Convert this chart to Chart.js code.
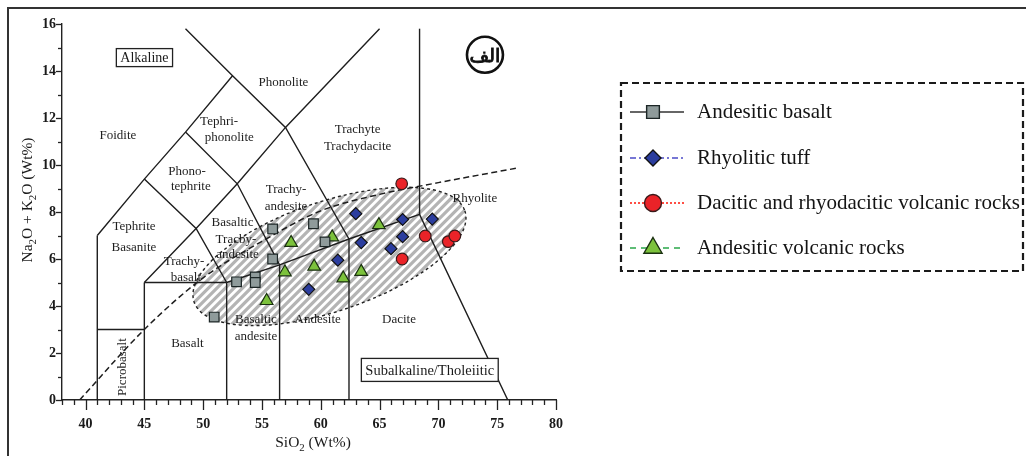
<!DOCTYPE html>
<html><head><meta charset="utf-8">
<script src="https://cdn.jsdelivr.net/npm/chart.js@4.4.1/dist/chart.umd.min.js"></script>
<style>html,body{margin:0;padding:0;background:#fff;}canvas{display:block}</style>
</head><body>
<canvas id="c" width="1026" height="456"></canvas>
<script>
// ---------- data ----------
const seriesNames = ['Andesitic basalt','Rhyolitic tuff','Dacitic and rhyodacitic volcanic rocks','Andesitic volcanic rocks'];
const andesiticBasalt = [[50.94,3.53],[52.84,5.03],[54.43,5.24],[54.43,5.0],[55.91,6.0],[55.91,7.28],[59.38,7.5],[60.36,6.73]];
const rhyoliticTuff = [[58.98,4.71],[61.45,5.95],[62.98,7.93],[63.44,6.70],[65.97,6.44],[66.96,7.68],[66.96,6.95],[69.48,7.70]];
const daciticRocks = [[66.88,9.2],[68.88,6.98],[66.92,6.0],[70.84,6.74],[71.4,6.98]];
const andesiticVolcanic = [[55.4,4.22],[56.95,5.44],[57.48,6.69],[59.44,5.68],[60.97,6.93],[61.91,5.18],[63.44,5.46],[64.94,7.45]];
const xTickLabels = [40,45,50,55,60,65,70,75,80];
const yTickLabels = [0,2,4,6,8,10,12,14,16];
const xTitle = [['SiO',0],['2',1],[' (Wt%)',0]];
const yTitle = [['Na',0],['2',1],['O + K',0],['2',1],['O (Wt%)',0]];
const tasBoundaries = [
  [[41,0],[41,7]],
  [[41,3],[45,3]],
  [[45,0],[45,5]],
  [[45,5],[52,5]],
  [[52,0],[52,5]],
  [[41,7],[45,9.4],[48.5,11.4],[52.5,13.8]],
  [[48.5,15.8],[52.5,13.8],[57,11.6],[62.4,6.85]],
  [[48.5,11.4],[52.9,9.2],[56.5,5.75]],
  [[45,9.4],[49.4,7.3],[52,5]],
  [[45,5],[49.4,7.3],[52.9,9.2],[57,11.6],[65,15.8]],
  [[52,5],[56.5,5.75],[62.4,6.85],[68.4,7.9],[75.9,0]],
  [[56.5,0],[56.5,5.75]],
  [[62.4,0],[62.4,6.85]],
  [[68.4,7.9],[68.4,15.8]]
];
const alkalineDivide = [[39.5,0],[45,3],[50,5.2],[55,6.75],[60,8.05],[65,8.75],[70,9.25],[76.7,9.87]];
const fieldEllipse = {v1:[49.23,4.17], v2:[72.25,8.05], co:[59.24,8.32]};
const fieldLabels = [
  ['Phonolite',56.82,13.5],['Tephri-',51.36,11.84],['phonolite',52.22,11.16],['Foidite',42.75,11.24],
  ['Phono-',48.64,9.71],['tephrite',48.95,9.07],['Trachy-',57.05,8.94],['andesite',57.05,8.23],
  ['Trachyte',63.13,11.5],['Trachydacite',63.13,10.79],['Rhyolite',73.1,8.59],
  ['Tephrite',44.12,7.38],['Basanite',44.12,6.49],['Basaltic',52.5,7.53],['Tracby-',52.79,6.84],['andesite',52.92,6.18],
  ['Trachy-',48.38,5.89],['basalt',48.53,5.23],['Basaltic',54.49,3.41],['andesite',54.49,2.7],
  ['Basalt',48.66,2.41],['Andesite',59.74,3.41],['Dacite',66.65,3.41]
];
const rotatedLabel = ['Picrobasalt',43.12,1.4];
const boxedLabels = [['Alkaline',45.01,14.57],['Subalkaline/Tholeiitic',69.27,1.28]];
const panelMark = ['الف',73.96,14.69];

// ---------- helpers ----------
const SERIF = '"Liberation Serif","Times New Roman",serif';
const toXY = a => a.map(p => ({x:p[0], y:p[1]}));
function P(chart, x, y){ return [chart.scales.x.getPixelForValue(x), chart.scales.y.getPixelForValue(y)]; }
function richWidth(ctx, parts, size){
  let w=0; for(const [t,s] of parts){ ctx.font = (s? (size*0.7):size)+'px '+SERIF; w+=ctx.measureText(t).width; } return w;
}
function drawRich(ctx, parts, size){
  const w = richWidth(ctx, parts, size); let x=-w/2;
  ctx.textBaseline='alphabetic'; ctx.textAlign='left';
  for(const [t,s] of parts){ ctx.font=(s?(size*0.7):size)+'px '+SERIF; ctx.fillText(t,x,s?size*0.25:0); x+=ctx.measureText(t).width; }
}
function marker(ctx, style, x, y, r, fill, stroke, bw){
  ctx.save(); ctx.fillStyle=fill; ctx.strokeStyle=stroke; ctx.lineWidth=bw; ctx.setLineDash([]); ctx.beginPath();
  if(style==='rect'){ const s=r*Math.SQRT1_2; ctx.rect(x-s,y-s,2*s,2*s); }
  else if(style==='rectRot'){ ctx.moveTo(x,y-r); ctx.lineTo(x+r,y); ctx.lineTo(x,y+r); ctx.lineTo(x-r,y); ctx.closePath(); }
  else if(style==='circle'){ ctx.arc(x,y,r,0,Math.PI*2); }
  else if(style==='triangle'){ ctx.moveTo(x,y-r); ctx.lineTo(x+r*0.866,y+r*0.5); ctx.lineTo(x-r*0.866,y+r*0.5); ctx.closePath(); }
  ctx.fill(); ctx.stroke(); ctx.restore();
}

const ellipsePlugin = {
  id:'fieldEllipse',
  beforeDatasetsDraw(chart){
    const ctx=chart.ctx;
    const [x1,y1]=P(chart,...fieldEllipse.v1), [x2,y2]=P(chart,...fieldEllipse.v2), [x3,y3]=P(chart,...fieldEllipse.co);
    const cx=(x1+x2)/2, cy=(y1+y2)/2, a=Math.hypot(x2-x1,y2-y1)/2, ang=Math.atan2(y2-y1,x2-x1);
    const ux=Math.cos(ang), uy=Math.sin(ang);
    const b=Math.abs(-(x3-cx)*uy+(y3-cy)*ux);
    ctx.save(); ctx.beginPath(); ctx.ellipse(cx,cy,a,b,ang,0,Math.PI*2); ctx.clip();
    ctx.strokeStyle='#b4b4b4'; ctx.lineWidth=3.2;
    for(let k=cx-a-260;k<cx+a+260;k+=8.5){ ctx.beginPath(); ctx.moveTo(k,cy+220); ctx.lineTo(k+440,cy-220); ctx.stroke(); }
    ctx.restore();
    ctx.save(); ctx.beginPath(); ctx.ellipse(cx,cy,a,b,ang,0,Math.PI*2);
    ctx.setLineDash([3,3]); ctx.lineWidth=1.4; ctx.strokeStyle='#222'; ctx.stroke(); ctx.restore();

    // region labels
    ctx.save(); ctx.fillStyle='#1e1e1e'; ctx.textAlign='center'; ctx.textBaseline='middle';
    ctx.font='13px '+SERIF;
    for(const [t,x,y] of fieldLabels){ const [px,py]=P(chart,x,y); ctx.fillText(t,px,py); }
    const [rx,ry]=P(chart,rotatedLabel[1],rotatedLabel[2]);
    ctx.translate(rx,ry); ctx.rotate(-Math.PI/2); ctx.fillText(rotatedLabel[0],0,0);
    ctx.restore();
  }
};

const decorPlugin = {
  id:'decor',
  afterDraw(chart){
    const ctx=chart.ctx, xs=chart.scales.x, ys=chart.scales.y, ca=chart.chartArea;
    ctx.save();
    // tick marks
    ctx.strokeStyle='#222'; ctx.lineWidth=1.3; ctx.setLineDash([]);
    for(let v=Math.ceil(xs.min); v<=xs.max; v++){
      const p=Math.round(xs.getPixelForValue(v))+0.5, len=(v%5===0)?10:5;
      ctx.beginPath(); ctx.moveTo(p,ca.bottom); ctx.lineTo(p,ca.bottom+len); ctx.stroke();
    }
    for(let v=ys.min; v<=ys.max; v++){
      const p=Math.round(ys.getPixelForValue(v))+0.5, len=(v%2===0)?6:4;
      ctx.beginPath(); ctx.moveTo(ca.left-len,p); ctx.lineTo(ca.left,p); ctx.stroke();
    }
    // axis titles
    ctx.fillStyle='#1a1a1a';
    ctx.save(); ctx.translate((ca.left+ca.right)/2+4, ca.bottom+47); drawRich(ctx,xTitle,15.5); ctx.restore();
    ctx.save(); ctx.translate(32,(ca.top+ca.bottom)/2-12); ctx.rotate(-Math.PI/2); drawRich(ctx,yTitle,15.5); ctx.restore();

    // boxed labels
    ctx.textAlign='center'; ctx.textBaseline='middle';
    boxedLabels.forEach(([t,x,y],i)=>{
      const [px,py]=P(chart,x,y); const fs = i===0?14:14.5;
      ctx.font=fs+'px '+SERIF; const w=ctx.measureText(t).width+8, h=i===0?18:23;
      ctx.fillStyle='#fff'; ctx.fillRect(px-w/2,py-h/2,w,h);
      ctx.strokeStyle='#222'; ctx.lineWidth=1.3; ctx.strokeRect(px-w/2,py-h/2,w,h);
      ctx.fillStyle='#1a1a1a'; ctx.fillText(t,px,py+1);
    });
    // panel mark
    const [mx,my]=P(chart,panelMark[1],panelMark[2]);
    ctx.beginPath(); ctx.arc(mx,my,18,0,Math.PI*2); ctx.lineWidth=2.6; ctx.strokeStyle='#111'; ctx.stroke();
    ctx.save();
    ctx.direction='rtl'; ctx.textAlign='center'; ctx.textBaseline='middle';
    ctx.fillStyle='#111'; ctx.strokeStyle='#111'; ctx.lineWidth=0.9;
    ctx.font='19px "DejaVu Sans",sans-serif';
    ctx.fillText(panelMark[0],mx,my+2); ctx.strokeText(panelMark[0],mx,my+2);
    ctx.restore();

    // legend
    const L={x:621,y:83,w:402,h:188};
    ctx.setLineDash([7,4]); ctx.lineWidth=2.2; ctx.strokeStyle='#1a1a1a'; ctx.strokeRect(L.x,L.y,L.w,L.h);
    const rows=[112,158,203,248];
    chart.data.datasets.filter(d=>d.legendLine).forEach((d,i)=>{
      const y=rows[i];
      ctx.save(); ctx.strokeStyle=d.legendLine.color; ctx.lineWidth=d.legendLine.width; ctx.setLineDash(d.legendLine.dash);
      ctx.beginPath(); ctx.moveTo(630,y); ctx.lineTo(684,y); ctx.stroke(); ctx.restore();
      marker(ctx,d.pointStyle,653,y,d.legendLine.r,d.backgroundColor,d.borderColor,1.4);
      ctx.fillStyle='#141414'; ctx.font='21px '+SERIF; ctx.textAlign='left'; ctx.textBaseline='middle';
      ctx.fillText(d.label,697,y);
    });
    // outer frame
    ctx.setLineDash([]); ctx.lineWidth=2; ctx.strokeStyle='#333'; ctx.strokeRect(8,8,1100,500);
    ctx.restore();
  }
};

function makeChart(){
  const boundarySets = tasBoundaries.map(seg=>({
    type:'line', data:toXY(seg), borderColor:'#1e1e1e', borderWidth:1.4, pointRadius:0, fill:false, order:10, tension:0
  }));
  const ptsOpts = {showLine:false, order:0, pointBorderWidth:1.2};
  new Chart(document.getElementById('c'),{
    type:'scatter',
    data:{datasets:[
      Object.assign({label:seriesNames[0],data:toXY(andesiticBasalt),pointStyle:'rect',pointRadius:6.8,backgroundColor:'#8f9b9b',borderColor:'#1c2626',
        legendLine:{color:'#333',width:1.6,dash:[],r:9}},ptsOpts),
      Object.assign({label:seriesNames[1],data:toXY(rhyoliticTuff),pointStyle:'rectRot',pointRadius:6,backgroundColor:'#2b3d9e',borderColor:'#111',
        legendLine:{color:'#4b4bc8',width:1.6,dash:[6,3,2,3],r:8}},ptsOpts),
      Object.assign({label:seriesNames[2],data:toXY(daciticRocks),pointStyle:'circle',pointRadius:5.8,backgroundColor:'#ea2328',borderColor:'#3a1a1a',
        legendLine:{color:'#ff3b30',width:1.8,dash:[2,2],r:8.5}},ptsOpts),
      Object.assign({label:seriesNames[3],data:toXY(andesiticVolcanic),pointStyle:'triangle',pointRadius:7.3,backgroundColor:'#7cc23c',borderColor:'#1a3010',
        legendLine:{color:'#2aa84a',width:1.6,dash:[6,5],r:10.5}},ptsOpts),
      {type:'line', data:toXY(alkalineDivide), borderColor:'#1e1e1e', borderWidth:1.5, borderDash:[6,3.5], pointRadius:0, fill:false, order:10, cubicInterpolationMode:'monotone'},
      ...boundarySets
    ]},
    options:{
      responsive:false, animation:false, devicePixelRatio:1, events:[],
      layout:{padding:{left:8,top:24,right:470,bottom:8}},
      plugins:{legend:{display:false},tooltip:{enabled:false}},
      scales:{
        x:{type:'linear',min:38,max:80,
          grid:{display:false,drawTicks:false,tickLength:0},border:{display:true,color:'#222',width:1.4},
          ticks:{stepSize:1,autoSkip:false,maxRotation:0,padding:16,color:'#1a1a1a',font:{family:SERIF,size:14,weight:'bold'},
            callback:v=>xTickLabels.includes(v)?String(v):''},
          afterFit:s=>{s.height=48;}},
        y:{type:'linear',min:0,max:16,
          grid:{display:false,drawTicks:false,tickLength:0},border:{display:true,color:'#222',width:1.4},
          ticks:{stepSize:1,autoSkip:false,padding:6,color:'#1a1a1a',font:{family:SERIF,size:14,weight:'bold'},
            callback:v=>yTickLabels.includes(v)?String(v):''},
          afterFit:s=>{s.width=54;}}
      }
    },
    plugins:[ellipsePlugin,decorPlugin]
  });
}
const fontLoads = [document.fonts.load('14px "Liberation Serif"'),document.fonts.load('bold 14px "Liberation Serif"'),document.fonts.load('19px "DejaVu Sans"','الف')];
Promise.all(fontLoads).then(makeChart,makeChart);
</script>
</body></html>
